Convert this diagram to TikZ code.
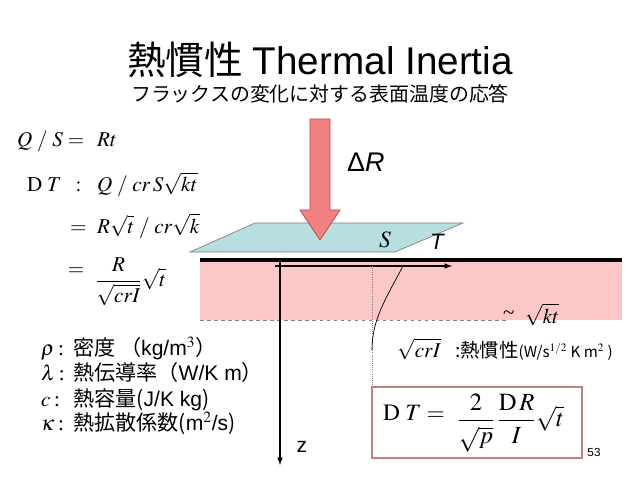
\documentclass[tikz,border=0pt]{standalone}
\usepackage{amsmath}
\usepackage{mathptmx}
\usepackage{fontspec}
\setmainfont{Liberation Serif}
\newfontfamily\jpfont{Noto Sans CJK JP}
\newfontfamily\sansfont{Liberation Sans}
\definecolor{fluxRed}{RGB}{241,128,128}
\definecolor{fluxEdge}{RGB}{190,75,72}
\definecolor{surfBlue}{RGB}{183,222,224}
\definecolor{layerPink}{RGB}{251,199,199}
\definecolor{boxEdge}{RGB}{192,128,128}

\begin{document}
\begin{tikzpicture}
[x=0.03cm,y=-0.03cm,
  titleDecorate/.style={inner sep=0pt,font=\fontsize{33}{36}\selectfont},%
  subDecorate/.style={inner sep=0pt,font=\jpfont\fontsize{17}{20}\selectfont},%
  eqDecorate/.style={inner sep=0pt,font=\fontsize{18}{21}\selectfont},%
  legDecorate/.style={inner sep=0pt,font=\fontsize{18}{20}\selectfont},%
  labelDecorate/.style={inner sep=0pt,font=\sansfont\fontsize{19}{22}\selectfont},%
  axisDecorate/.style={-latex,line width=1.2pt}]
\useasboundingbox (0,0) rectangle (640,480);
%% title
\node (title) at (320,75) [titleDecorate,anchor=base]
  {{\jpfont 熱慣性} {\sansfont Thermal Inertia}};
\node (subtitle) at (320,102) [subDecorate,anchor=base]
  {フラックスの変化に対する表面温度の応答};
%% ground layer and surface
\fill[layerPink] (200,262) rectangle (622,320);
\draw[gray,dashed,line width=0.8pt] (200,320) -- (508,320);
\draw[line width=3.4pt] (200,260) -- (622,260);
\filldraw[fill=surfBlue,draw=gray,line width=0.6pt]
  (190,252) -- (395,252) -- (463,223) -- (255,223) -- cycle;
\node (surfS) at (385,240) [eqDecorate,font=\fontsize{20}{22}\selectfont] {$S$};
\node (surfT) at (437,242) [labelDecorate,font=\sansfont\itshape\fontsize{19}{22}\selectfont] {T};
%% flux arrow
\filldraw[fill=fluxRed,draw=fluxEdge,line width=0.6pt]
  (310,119) -- (330,119) -- (330,210) -- (340,210) -- (320,240)
  -- (300,210) -- (310,210) -- cycle;
\node (deltaR) at (347,172) [labelDecorate,anchor=base west,
  font=\sansfont\fontsize{23}{26}\selectfont] {Δ\textit{R}};
%% axes
\coordinate (tStart) at (275,266);
\coordinate (tEnd) at (452,266);
\coordinate (zStart) at (280,262);
\coordinate (zEnd) at (280,465);
\draw[axisDecorate] (tStart) -- (tEnd);
\draw[axisDecorate] (zStart) -- (zEnd);
\node (zLabel) at (302,447) [labelDecorate,font=\sansfont\fontsize{18}{20}\selectfont] {z};
%% temperature profile
\draw[gray,densely dotted,line width=0.8pt] (372,266) -- (372,387);
\draw[line width=0.6pt] (403,266) .. controls (385,300) and (372,320) .. (372,350);
\node (depth) at (503,323) [eqDecorate,anchor=base west]
  {\raisebox{3pt}{\textasciitilde}\ \ $\sqrt{kt}$};
%% equations on the left
\node (eqAl) at (17,147) [eqDecorate,anchor=base west] {$Q\;/\;S =$};
\node (eqAr) at (97,147) [eqDecorate,anchor=base west] {$Rt$};
\node (eqBl) at (27,192) [eqDecorate,anchor=base west] {$\mathrm{D}\;T\;\;:$};
\node (eqBr) at (97,192) [eqDecorate,anchor=base west] {$Q\;/\;cr\,S\sqrt{kt}$};
\node (eqCl) at (70,233) [eqDecorate,anchor=base west] {$=$};
\node (eqCr) at (97,233) [eqDecorate,anchor=base west] {$R\sqrt{t}\;/\;cr\sqrt{k}$};
\node (eqDl) at (76,272) [eqDecorate] {$=$};
\node (eqDr) at (95,282) [eqDecorate,anchor=west] {$\dfrac{R}{\sqrt{crI}}\sqrt{t}$};
%% legend
\foreach \sym/\txt/\y [count=\i] in {
  {\rho}/{密度 （{\sansfont kg/m$^{3}$}）}/355,
  {\lambda}/{熱伝導率（{\sansfont W/K m}）}/380,
  {c}/{熱容量({\sansfont J/K kg})}/406,
  {\kappa}/{熱拡散係数({\sansfont m$^{2}$/s})}/430}
{
  \node (legSym\i) at (41,\y) [legDecorate,anchor=base west] {$\sym$\,:};
  \node (legTxt\i) at (73,\y) [legDecorate,anchor=base west,font=\jpfont\fontsize{18}{20}\selectfont] {\txt};
}
%% thermal inertia
\node (inertiaSym) at (397,357) [eqDecorate,anchor=base west] {$\sqrt{crI}$};
\node (inertiaTxt) at (455,357) [anchor=base west,inner sep=0pt,
  font=\jpfont\fontsize{16.5}{18}\selectfont]
  {:熱慣性{\fontsize{13}{15}\selectfont(W/s$^{1/2}$ K m$^{2}$ )}};
%% result box
\draw[boxEdge,line width=1pt] (372,387) rectangle (582,458);
\node (resultL) at (383,420) [inner sep=0pt,anchor=base west,font=\fontsize{20}{24}\selectfont]
  {$\mathrm{D}\;T =$};
\node (resultR) at (457,423) [inner sep=0pt,anchor=west,font=\fontsize{21}{24}\selectfont]
  {$\dfrac{2}{\sqrt{p}}\,\dfrac{\mathrm{D}\,R}{I}\sqrt{t}$};
\node (pageNo) at (594,452) [inner sep=0pt,font=\sansfont\fontsize{10}{12}\selectfont] {53};
\end{tikzpicture}
\end{document}
